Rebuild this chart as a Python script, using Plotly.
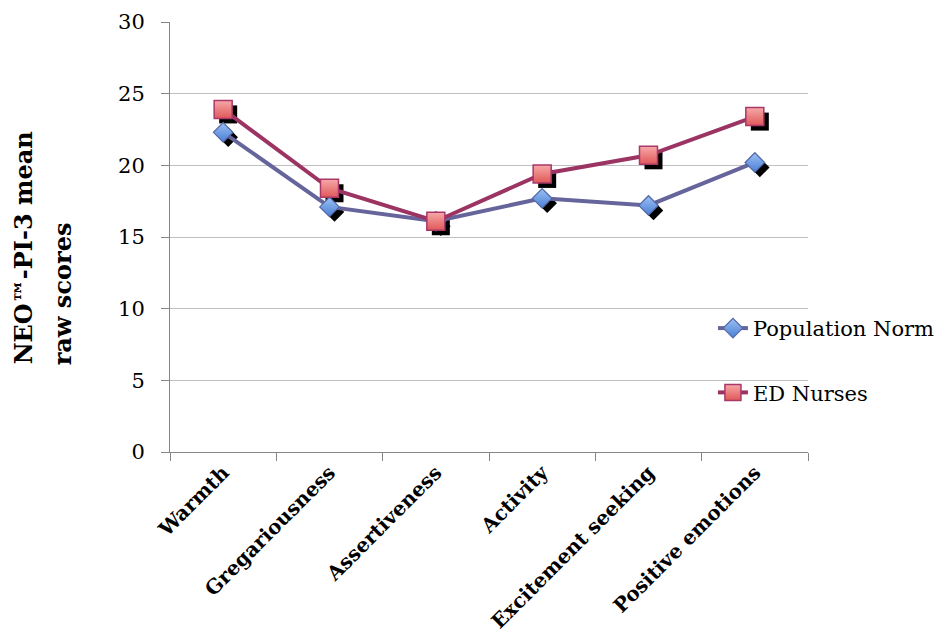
import plotly.graph_objects as go

categories = ["Warmth", "Gregariousness", "Assertiveness", "Activity",
              "Excitement seeking", "Positive emotions"]
population_norm = [22.3, 17.1, 16.1, 17.7, 17.2, 20.2]
ed_nurses = [23.9, 18.4, 16.1, 19.4, 20.7, 23.4]
y_ticks = [0, 5, 10, 15, 20, 25, 30]
y_title_lines = ["NEO™-PI-3 mean", "raw scores"]

FONT = "DejaVu Serif"
BLUE_LINE = "#65659C"
RED_LINE = "#9B3463"

fig = go.Figure()

# Invisible trace so the visible category axis knows its categories
fig.add_trace(go.Scatter(x=categories, y=population_norm, mode="markers",
                         marker=dict(opacity=0), showlegend=False, hoverinfo="skip"))

# Drop shadows: same data on an overlaid axis pair whose ranges are nudged a few pixels
SHADOW_DX = 5 / 106.3   # category units
SHADOW_DY = 5 / 14.33   # score units
for vals, sym, size in [(population_norm, "diamond", 15), (ed_nurses, "square", 18)]:
    fig.add_trace(go.Scatter(
        x=categories, y=vals, mode="markers", xaxis="x2", yaxis="y2",
        marker=dict(symbol=sym, size=size, color="black", line=dict(width=0)),
        showlegend=False, hoverinfo="skip"))

# Series drawn on a third overlaid pair so they sit above the shadows
fig.add_trace(go.Scatter(
    x=categories, y=population_norm, name="Population Norm", mode="lines+markers",
    xaxis="x3", yaxis="y3", legendgroup="a",
    line=dict(color=BLUE_LINE, width=4),
    marker=dict(symbol="diamond", size=15, color="#9CC0F2",
                gradient=dict(type="vertical", color="#4A7FD6"),
                line=dict(color="#5468A8", width=1.2))))
fig.add_trace(go.Scatter(
    x=categories, y=ed_nurses, name="ED Nurses", mode="lines+markers",
    xaxis="x3", yaxis="y3", legendgroup="b",
    line=dict(color=RED_LINE, width=4),
    marker=dict(symbol="square", size=18, color="#F7A8A8",
                gradient=dict(type="vertical", color="#E05858"),
                line=dict(color="#A8386A", width=1.5))))

axis_font = dict(family=FONT, size=21, color="black")

fig.update_layout(
    width=938, height=642,
    margin=dict(l=170, r=130, t=22, b=190, autoexpand=False),
    paper_bgcolor="white", plot_bgcolor="white",
    font=axis_font,
    showlegend=True,
    legend=dict(x=0.851, y=0.335, xanchor="left", yanchor="top",
                bgcolor="rgba(0,0,0,0)", traceorder="grouped",
                tracegroupgap=34, font=dict(family=FONT, size=21)),
    xaxis=dict(
        type="category", categoryarray=categories, range=[-0.5, 5.5],
        tickangle=-45, tickfont=dict(family=FONT, size=20, color="black", weight="bold"),
        showline=True, linecolor="#868686", linewidth=1,
        ticks="outside", tickson="boundaries", ticklen=8, tickcolor="#868686",
        showgrid=False, zeroline=False),
    yaxis=dict(
        range=[0, 30], tickvals=y_ticks, tickfont=axis_font,
        showline=True, linecolor="#868686", linewidth=1,
        ticks="outside", ticklen=8, tickcolor="#868686", ticklabelstandoff=12,
        showgrid=True, gridcolor="#C0C0C0", gridwidth=1, zeroline=False),
    xaxis2=dict(type="category", categoryarray=categories,
                range=[-0.5 - SHADOW_DX, 5.5 - SHADOW_DX],
                overlaying="x", visible=False),
    yaxis2=dict(range=[SHADOW_DY, 30 + SHADOW_DY], overlaying="y", visible=False),
    xaxis3=dict(type="category", categoryarray=categories, range=[-0.5, 5.5],
                overlaying="x", visible=False),
    yaxis3=dict(range=[0, 30], overlaying="y", visible=False),
)

# Two-line rotated axis title, lines aligned at their start
for line_text, xpos in zip(y_title_lines, [-0.2304, -0.1693]):
    fig.add_annotation(
        text=line_text, xref="paper", yref="paper",
        x=xpos, y=0.198, xanchor="center", yanchor="bottom", textangle=-90,
        showarrow=False, font=dict(family=FONT, size=24, color="black", weight="bold"))

fig.write_html("out.html")
